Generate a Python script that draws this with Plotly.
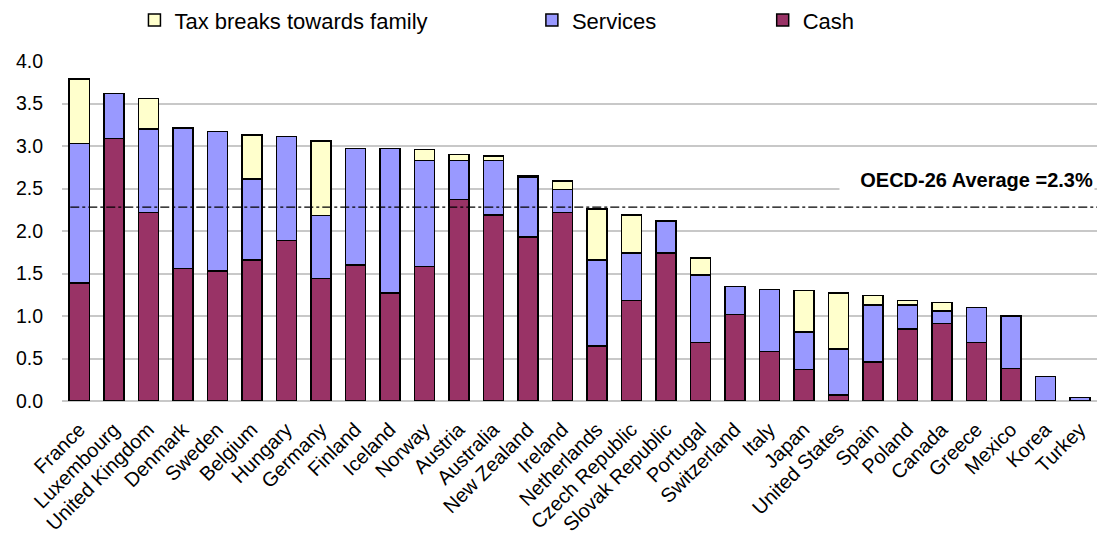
import plotly.graph_objects as go

countries = ["France", "Luxembourg", "United Kingdom", "Denmark", "Sweden", "Belgium", "Hungary",
             "Germany", "Finland", "Iceland", "Norway", "Austria", "Australia", "New Zealand",
             "Ireland", "Netherlands", "Czech Republic", "Slovak Republic", "Portugal",
             "Switzerland", "Italy", "Japan", "United States", "Spain", "Poland", "Canada",
             "Greece", "Mexico", "Korea", "Turkey"]

cash = [1.39, 3.09, 2.22, 1.56, 1.53, 1.66, 1.89, 1.44, 1.60, 1.27, 1.58, 2.37, 2.19, 1.93,
        2.22, 0.65, 1.18, 1.74, 0.69, 1.02, 0.58, 0.37, 0.07, 0.46, 0.85, 0.91, 0.69, 0.38,
        0.00, 0.00]
services = [1.64, 0.53, 0.98, 1.65, 1.64, 0.95, 1.22, 0.74, 1.37, 1.70, 1.25, 0.46, 0.64, 0.70,
            0.27, 1.01, 0.56, 0.38, 0.79, 0.33, 0.73, 0.44, 0.54, 0.67, 0.28, 0.15, 0.41, 0.62,
            0.29, 0.04]
tax = [0.76, 0.00, 0.36, 0.00, 0.00, 0.52, 0.00, 0.88, 0.00, 0.00, 0.13, 0.07, 0.05, 0.02,
       0.10, 0.60, 0.45, 0.00, 0.20, 0.00, 0.00, 0.49, 0.66, 0.11, 0.05, 0.10, 0.00, 0.00,
       0.00, 0.00]

oecd_avg = 2.28
avg_label = "OECD-26 Average =2.3%"
y_ticks = [0.0, 0.5, 1.0, 1.5, 2.0, 2.5, 3.0, 3.5, 4.0]

FONT = "Liberation Sans, Arial, sans-serif"
NARROW = "Liberation Sans Narrow, Arial Narrow, Liberation Sans, sans-serif"

fig = go.Figure()
line = dict(color="black", width=1.5)
fig.add_trace(go.Bar(x=countries, y=cash, name="Cash", legend="legend3",
                     marker=dict(color="#993366", line=line)))
fig.add_trace(go.Bar(x=countries, y=services, name="Services", legend="legend2",
                     marker=dict(color="#9999FF", line=line)))
fig.add_trace(go.Bar(x=countries, y=tax, name="Tax breaks towards family", legend="legend",
                     marker=dict(color="#FFFFCC", line=line)))

fig.add_shape(type="line", xref="paper", yref="y", x0=0.008, x1=1.0, y0=oecd_avg, y1=oecd_avg,
              line=dict(color="black", width=1.2, dash="dashdot"))
fig.add_annotation(xref="paper", yref="y", x=0.998, y=2.6, xanchor="right", yanchor="middle",
                   text="<b>" + avg_label + "</b>", showarrow=False, bgcolor="white",
                   width=252, align="right",
                   font=dict(family=FONT, size=20, color="black"))

leg_common = dict(orientation="h", yanchor="middle", y=1.12, xanchor="left",
                  font=dict(family=NARROW, size=22), bgcolor="rgba(0,0,0,0)",
                  itemwidth=30)
fig.update_layout(
    width=1100, height=541,
    margin=dict(l=62, r=3, t=61, b=140, autoexpand=False),
    barmode="stack", bargap=0.42,
    plot_bgcolor="white", paper_bgcolor="white",
    font=dict(family=FONT, size=17, color="black"),
    legend=dict(x=0.070, **leg_common),
    legend2=dict(x=0.454, **leg_common),
    legend3=dict(x=0.677, **leg_common),
    showlegend=True,
)
fig.update_xaxes(tickangle=-45, tickfont=dict(family=FONT, size=20), showline=False,
                 showgrid=False, ticks="", ticklabelstandoff=12)
fig.update_yaxes(range=[0, 4.0], tickvals=y_ticks, tickformat=".1f", showgrid=True,
                 gridcolor="#C8C8C8", gridwidth=1.5, zeroline=True, zerolinecolor="#C8C8C8",
                 zerolinewidth=1.5, showline=False, ticklabelstandoff=18,
                 tickfont=dict(family=FONT, size=19.5))

fig.write_html("out.html", config={"displayModeBar": False},
               post_script="document.body.style.margin='0';")
